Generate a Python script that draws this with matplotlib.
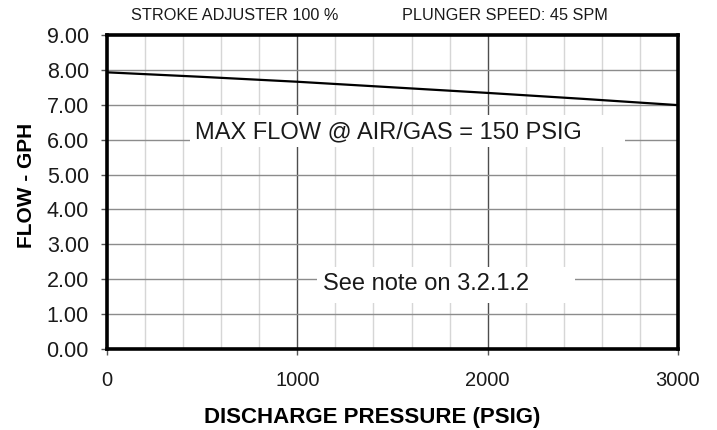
import numpy as np
import matplotlib
matplotlib.use('Agg')
import matplotlib.pyplot as plt
from matplotlib.patches import Rectangle

plt.rcParams['font.family'] = ['Liberation Sans', 'DejaVu Sans']

# ── Data ──
pressure = [0, 500, 1000, 1500, 2000, 2500, 3000]
flow = [7.93, 7.80, 7.66, 7.50, 7.34, 7.17, 6.99]

x_ticks = [0, 1000, 2000, 3000]
y_ticks = [0, 1, 2, 3, 4, 5, 6, 7, 8, 9]

fig = plt.figure(figsize=(7.17, 4.30), dpi=100)
ax = fig.add_axes([107/717, 1 - 349/430, 571/717, 314/430])

# ── Grid ──
for xv in np.arange(200, 3000, 200):
    if xv % 1000 == 0:
        ax.axvline(xv, color="#4d4d4d", linewidth=1.0, zorder=1)
    else:
        ax.axvline(xv, color="#d6d6d6", linewidth=1.0, zorder=1)
for yv in y_ticks[1:-1]:
    ax.axhline(yv, color="#8c8c8c", linewidth=1.0, zorder=1)

# ── White label boxes that mask the grid ──
ax.add_patch(Rectangle((436, 5.79), 2722 - 436, 6.70 - 5.79,
                       facecolor="white", edgecolor="none", zorder=2))
ax.add_patch(Rectangle((1103, 1.32), 2459 - 1103, 2.35 - 1.32,
                       facecolor="white", edgecolor="none", zorder=2))

ax.plot(pressure, flow, color="black", linewidth=1.6, zorder=4)

ax.text(462, 6.22, "MAX FLOW @ AIR/GAS = 150 PSIG", fontsize=17,
        color="#1a1a1a", ha="left", va="center", zorder=3)
ax.text(1135, 1.86, "See note on 3.2.1.2", fontsize=17,
        color="#1a1a1a", ha="left", va="center", zorder=3)

ax.set_xlim(0, 3000)
ax.set_ylim(0, 9)
ax.set_xticks(x_ticks)
ax.set_yticks(y_ticks)
ax.set_yticklabels([f"{v:.2f}" for v in y_ticks])
ax.tick_params(axis="both", length=4, width=1,
               color="#555555", labelcolor="#1a1a1a")
ax.tick_params(axis="x", labelsize=14.5, pad=12)
ax.tick_params(axis="y", labelsize=15.5, pad=9)

for sp in ax.spines.values():
    sp.set_linewidth(2.6)
    sp.set_color("black")
    sp.set_zorder(5)

ax.set_xlabel("DISCHARGE PRESSURE (PSIG)", fontsize=16, fontweight="bold")
ax.set_ylabel("FLOW - GPH", fontsize=15, fontweight="bold")
ax.xaxis.set_label_coords(0.465, -0.185)
ax.yaxis.set_label_coords(-0.124, 0.522)

fig.text(131/717, 1 - 15/430, "STROKE ADJUSTER 100 %", fontsize=11.7,
         ha="left", va="center", color="#1a1a1a")
fig.text(402/717, 1 - 15/430, "PLUNGER SPEED: 45 SPM", fontsize=11.7,
         ha="left", va="center", color="#1a1a1a")

plt.savefig("out.png", dpi=100)
plt.close()
